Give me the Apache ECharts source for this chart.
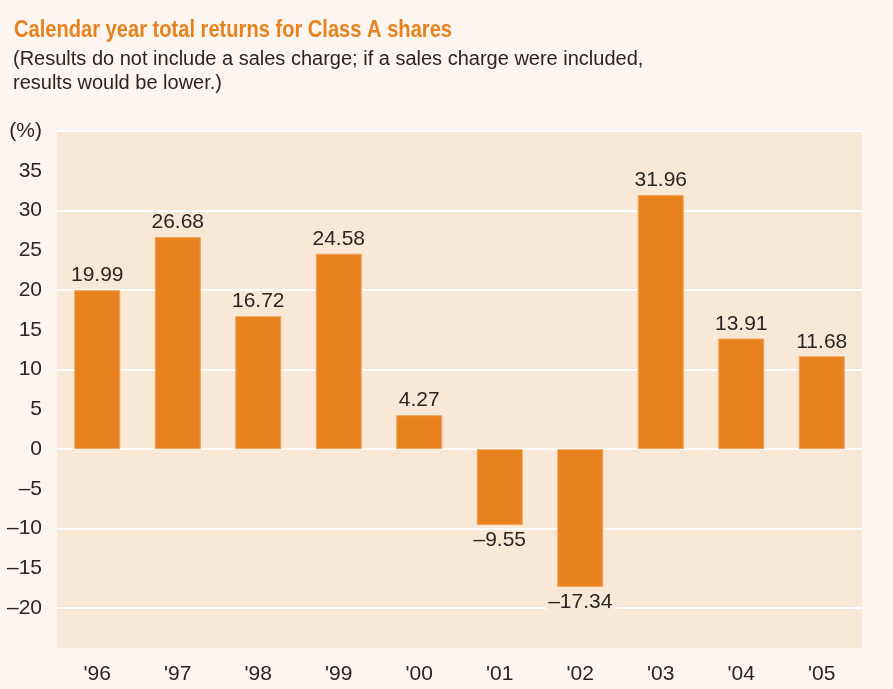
<!DOCTYPE html>
<html>
<head>
<meta charset="UTF-8">
<title>Calendar year total returns</title>
<script src="https://cdn.jsdelivr.net/npm/echarts@6/dist/echarts.min.js"></script>
</head>
<body style="margin:0; background:#fdf5ef">
<div id="container" style="width:893px; height:689px"></div>
<script type="text/javascript">
    // data
    var years = ["'96", "'97", "'98", "'99", "'00", "'01", "'02", "'03", "'04", "'05"];
    var returns = [19.99, 26.68, 16.72, 24.58, 4.27, -9.55, -17.34, 31.96, 13.91, 11.68];

    var titleText = 'Calendar year total returns for Class A shares';
    var noteLines = [
        '(Results do not include a sales charge; if a sales charge were included,',
        'results would be lower.)'
    ];

    var orange = '#e8821e';
    var ink = '#2b2622';
    var font = "'Liberation Sans', Arial, sans-serif";

    // negative numbers are written with an en dash
    function fmt(v, digits) {
        var s = Math.abs(v).toFixed(digits);
        return v < 0 ? '\u2013' + s : s;
    }

    // the original title uses a condensed face, squeeze it to the same width
    var titleFont = 'bold 24px ' + font;
    var ctx = document.createElement('canvas').getContext('2d');
    ctx.font = titleFont;
    var titleScale = 438 / ctx.measureText(titleText).width;

    var myChart = echarts.init(document.getElementById('container'));

    var option = {
        backgroundColor: '#fdf5ef',
        animation: false,
        graphic: [
            {
                type: 'text',
                x: 14,
                y: 18,
                scaleX: titleScale,
                style: {
                    text: titleText,
                    font: titleFont,
                    fill: orange,
                    verticalAlign: 'top'
                }
            },
            {
                type: 'text',
                x: 13,
                y: 47,
                style: {
                    text: noteLines.join('\n'),
                    fontFamily: font,
                    fontSize: 20,
                    lineHeight: 24,
                    fill: ink,
                    verticalAlign: 'top'
                }
            }
        ],
        grid: {
            left: 57,
            right: 31,
            top: 131,
            bottom: 41,
            show: true,
            backgroundColor: '#fae8d7',
            borderWidth: 0
        },
        xAxis: {
            type: 'category',
            data: years,
            axisLine: {show: false},
            axisTick: {show: false},
            axisLabel: {
                color: ink,
                fontFamily: font,
                fontSize: 21,
                margin: 16
            }
        },
        yAxis: {
            type: 'value',
            min: -25,
            max: 40,
            interval: 5,
            axisLine: {show: false},
            axisTick: {show: false},
            axisLabel: {
                color: ink,
                fontFamily: font,
                fontSize: 21,
                margin: 15,
                formatter: function (v) {
                    if (v === 40) return '(%)';
                    if (v === -25) return '';
                    return fmt(v, 0);
                }
            },
            splitLine: {
                show: true,
                // white rule every 10, none in between
                lineStyle: {color: ['rgba(0,0,0,0)', '#ffffff'], width: 2}
            }
        },
        series: [{
            type: 'bar',
            barWidth: 46,
            itemStyle: {
                color: orange,
                borderColor: '#f0a45e',
                borderWidth: 1
            },
            label: {
                show: true,
                color: ink,
                fontFamily: font,
                fontSize: 21,
                distance: 4,
                backgroundColor: '#fae8d7',
                padding: [0, 2],
                formatter: function (p) {
                    return fmt(p.value, 2);
                }
            },
            data: returns.map(function (v) {
                return {value: v, label: {position: v < 0 ? 'bottom' : 'top', distance: v < 0 ? 5 : 4}};
            })
        }]
    };

    myChart.setOption(option);
</script>
</body>
</html>
